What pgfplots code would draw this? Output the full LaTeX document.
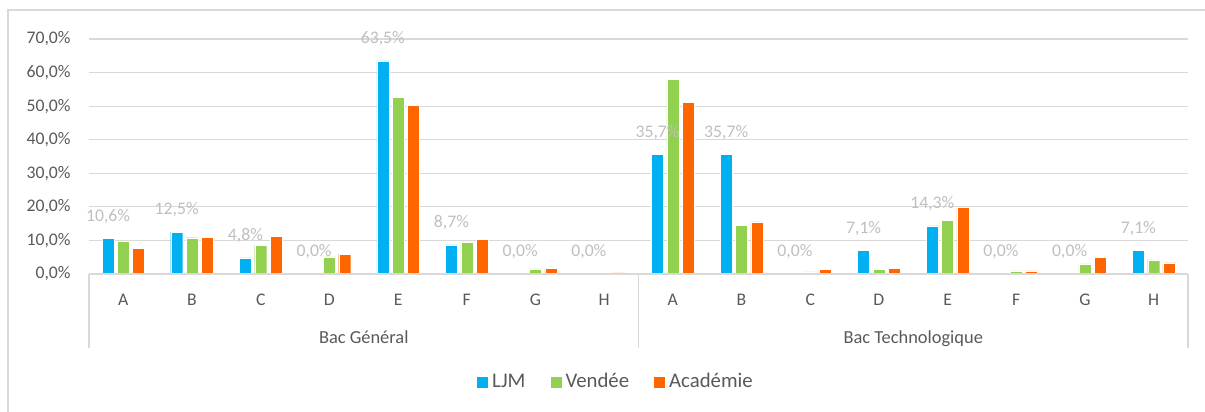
\documentclass[border=0pt]{standalone}
\usepackage{fontspec}
\setmainfont{Carlito}
\usepackage{pgfplots}
\usepackage{pgfplotstable}
\pgfplotsset{compat=1.18}

\definecolor{ljm}{HTML}{00B0F0}
\definecolor{vendee}{HTML}{92D050}
\definecolor{academie}{HTML}{FF6600}
\definecolor{gridgray}{HTML}{D9D9D9}
\definecolor{textgray}{HTML}{595959}
\definecolor{labelgray}{HTML}{BFBFBF}

% x: 0-7 Bac Général A-H, 8-15 Bac Technologique A-H
\pgfplotstableread{
x  ljm   vendee academie
0  10.6  9.8    7.6
1  12.5  10.8   10.9
2  4.8   8.6    11.3
3  0     5.1    5.9
4  63.5  52.7   50.2
5  8.7   9.6    10.4
6  0     1.5    1.7
7  0     0.5    0.3
8  35.7  58.0   51.1
9  35.7  14.5   15.5
10 0     0.6    1.4
11 7.1   1.3    1.7
12 14.3  15.9   19.9
13 0     0.9    0.9
14 0     3.0    5.0
15 7.1   4.2    3.3
}\datatable

\newcommand{\tickfont}{\fontsize{8.85}{10.6}\selectfont}

\begin{document}
\begin{tikzpicture}
\useasboundingbox (0,0) rectangle (602.5pt,-206pt);
\draw[gridgray, line width=0.6pt] (4pt,-215pt) -- (4pt,-5pt) -- (615pt,-5pt);
\begin{axis}[
    at={(44.5pt,-137pt)}, anchor=south west,
    scale only axis,
    width=549.5pt, height=117.5pt,
    xmin=-0.5, xmax=15.5, ymin=0, ymax=70,
    clip=false,
    ybar=1.65pt, bar width=6pt,
    axis line style={draw=none},
    major tick length=0pt,
    ymajorgrids,
    grid style={gridgray, line width=0.6pt},
    /pgf/number format/assume math mode=true,
    ytick={0,10,...,70},
    yticklabel={\pgfmathprintnumber[fixed,fixed zerofill,precision=1,use comma]{\tick}\%},
    yticklabel style={anchor=east, inner sep=0pt, xshift=-9pt, font=\tickfont, text=textgray},
    xtick={0,...,15},
    xticklabels={A,B,C,D,E,F,G,H,A,B,C,D,E,F,G,H},
    xticklabel style={anchor=base, inner sep=0pt, yshift=-15.5pt, font=\tickfont, text=textgray},
    legend columns=3,
    legend style={draw=none, fill=none, at={(axis description cs:0.4804,-0.4596)}, anchor=center,
        font=\fontsize{10.4}{12.5}\selectfont, text=textgray,
        /tikz/every even column/.append style={column sep=10.5pt}},
    legend image code/.code={\fill[#1, draw=none] (0pt,-2.75pt) rectangle (5.5pt,2.75pt);},
]
\addplot[fill=ljm, draw=white, line width=0.15pt,
    nodes near coords={\pgfmathprintnumber[fixed,fixed zerofill,precision=1,use comma,assume math mode=true]{\pgfplotspointmeta}\%},
    every node near coord/.append style={font=\tickfont, text=labelgray, yshift=4pt}]
    table[x=x, y=ljm] {\datatable};
\addplot[fill=vendee, draw=white, line width=0.15pt] table[x=x, y=vendee] {\datatable};
\addplot[fill=academie, draw=white, line width=0.15pt] table[x=x, y=academie] {\datatable};
\legend{LJM, Vendée, Académie}

\draw[gridgray, line width=0.6pt] (axis cs:-0.5,0) -- (axis cs:15.5,0);
\draw[gridgray, line width=0.6pt] (axis cs:-0.5,0) -- ++(0pt,-37pt);
\draw[gridgray, line width=0.6pt] (axis cs:7.5,0) -- ++(0pt,-37pt);
\draw[gridgray, line width=0.6pt] (axis cs:15.5,0) -- ++(0pt,-37pt);
\node[anchor=base, font=\fontsize{9.2}{11}\selectfont, text=textgray] at ([yshift=-34.5pt]axis cs:3.5,0) {Bac Général};
\node[anchor=base, font=\fontsize{9.2}{11}\selectfont, text=textgray] at ([yshift=-34.5pt]axis cs:11.5,0) {Bac Technologique};
\end{axis}
\end{tikzpicture}
\end{document}
